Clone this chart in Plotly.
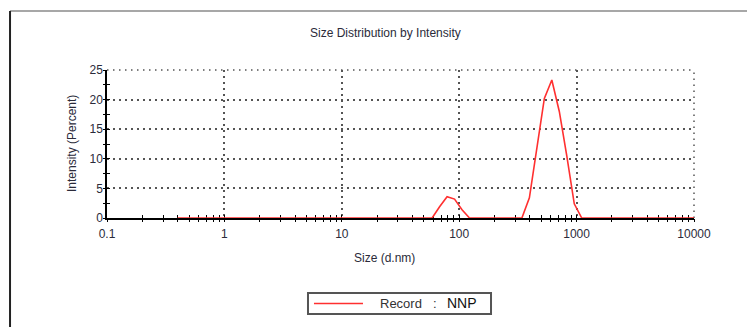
import plotly.graph_objects as go

# Size classes (d.nm) and intensity (%) of the record
size_nm = [0.4, 58.77, 68.06, 78.82, 91.28, 105.7, 122.4,
           342.0, 396.1, 458.7, 531.2, 615.1, 712.4, 825.0, 955.4, 1106.0, 10000.0]
intensity_pct = [0.0, 0.0, 1.9, 3.6, 3.2, 1.4, 0.0,
                 0.0, 3.4, 12.0, 20.2, 23.3, 18.0, 10.5, 2.4, 0.0, 0.0]

x_ticks = [0.1, 1, 10, 100, 1000, 10000]
x_tick_text = ["0.1", "1", "10", "100", "1000", "10000"]
y_ticks = [0, 5, 10, 15, 20, 25]

record_label = "Record"
record_name = "NNP"

FONT = "Liberation Sans, Arial, sans-serif"
TXT = "#2b2b3a"
GRID = "#555555"
GRID_DASH = "1.5px,4.5px"
RED = "#ff3030"

fig = go.Figure()
fig.add_trace(go.Scatter(
    x=size_nm, y=intensity_pct, mode="lines", name=f"{record_label} : {record_name}",
    line=dict(color=RED, width=1.6), hoverinfo="x+y", showlegend=False,
))
# empty trace to carry the mirrored tick axes
fig.add_trace(go.Scatter(x=[], y=[], xaxis="x2", yaxis="y2",
                         showlegend=False, hoverinfo="skip"))

common_x = dict(type="log", range=[-1, 4], fixedrange=True)
common_y = dict(range=[0, 25], fixedrange=True)

fig.update_layout(
    width=747, height=327,
    margin=dict(l=107, r=53, t=70, b=109, autoexpand=False),
    paper_bgcolor="white", plot_bgcolor="white",
    font=dict(family=FONT, size=12, color=TXT),
    showlegend=False,
    xaxis=dict(
        **common_x,
        tickvals=x_ticks, ticktext=x_tick_text,
        ticks="inside", ticklen=3, tickwidth=1, tickcolor="black",
        minor=dict(ticks="inside", ticklen=3, tickwidth=1, tickcolor="black",
                   dtick="D1", showgrid=False),
        showgrid=True, gridcolor=GRID, gridwidth=1.5, griddash=GRID_DASH,
        showline=True, linecolor="black", linewidth=1.5,
        zeroline=False, layer="below traces",
        tickfont=dict(size=12, color=TXT), ticklabelstandoff=4,
    ),
    yaxis=dict(
        **common_y,
        tickvals=y_ticks,
        ticks="inside", ticklen=3, tickwidth=1, tickcolor="black",
        minor=dict(ticks="inside", ticklen=3, tickwidth=1, tickcolor="black",
                   dtick=2.5, showgrid=False),
        showgrid=True, gridcolor=GRID, gridwidth=1.5, griddash=GRID_DASH,
        showline=True, linecolor="black", linewidth=1.5,
        zeroline=False, layer="below traces",
        tickfont=dict(size=12, color=TXT),
    ),
    xaxis2=dict(
        **common_x, overlaying="x", anchor="y2", side="bottom",
        tickvals=x_ticks, showticklabels=False,
        ticks="outside", ticklen=3, tickwidth=1, tickcolor="black",
        minor=dict(ticks="outside", ticklen=3, tickwidth=1, tickcolor="black",
                   dtick="D1", showgrid=False),
        showgrid=False, showline=False, zeroline=False, layer="below traces",
    ),
    yaxis2=dict(
        **common_y, overlaying="y", anchor="x2", side="left",
        tickvals=y_ticks, showticklabels=False,
        ticks="outside", ticklen=3, tickwidth=1, tickcolor="black",
        minor=dict(ticks="outside", ticklen=3, tickwidth=1, tickcolor="black",
                   dtick=2.5, showgrid=False),
        showgrid=False, showline=False, zeroline=False, layer="below traces",
    ),
)

# dotted edges of the plotting frame at y = 25 and size = 10000
fig.add_shape(type="line", xref="paper", yref="paper", x0=0, x1=1, y0=1, y1=1,
              line=dict(color=GRID, width=1.5, dash=GRID_DASH), layer="below")
fig.add_shape(type="line", xref="paper", yref="paper", x0=1, x1=1, y0=0, y1=1,
              line=dict(color=GRID, width=1.5, dash=GRID_DASH), layer="below")

# chart title and axis titles
fig.add_annotation(text="Size Distribution by Intensity", xref="paper", yref="paper",
                   x=0.474, y=1.25, xanchor="center", yanchor="middle",
                   showarrow=False, font=dict(size=12, color=TXT))
fig.add_annotation(text="Size (d.nm)", xref="paper", yref="paper",
                   x=0.472, y=-0.27, xanchor="center", yanchor="middle",
                   showarrow=False, font=dict(size=12, color=TXT))
fig.add_annotation(text="Intensity (Percent)", xref="paper", yref="paper",
                   x=-0.0596, y=0.5, xanchor="center", yanchor="middle",
                   textangle=-90, showarrow=False, font=dict(size=12, color=TXT))

# legend box for the record
fig.add_shape(type="rect", xref="paper", yref="paper",
              x0=0.3424, x1=0.6542, y0=-0.5068, y1=-0.6486,
              line=dict(color="#555555", width=2), fillcolor="white")
fig.add_shape(type="line", xref="paper", yref="paper",
              x0=0.3526, x1=0.4361, y0=-0.5777, y1=-0.5777,
              line=dict(color=RED, width=1.6))
fig.add_annotation(text=record_label, xref="paper", yref="paper",
                   x=0.4617, y=-0.5777, xanchor="left", yanchor="middle",
                   showarrow=False, font=dict(size=13, color="#333333"))
fig.add_annotation(text=":", xref="paper", yref="paper",
                   x=0.5588, y=-0.5777, xanchor="center", yanchor="middle",
                   showarrow=False, font=dict(size=13, color="#333333"))
fig.add_annotation(text=record_name, xref="paper", yref="paper",
                   x=0.5758, y=-0.5777, xanchor="left", yanchor="middle",
                   showarrow=False, font=dict(size=14, color="#111111"))

# outer frame: grey top edge and dark left edge
fig.add_shape(type="line", xref="paper", yref="paper",
              x0=-0.1652, x1=1.1, y0=1.3986, y1=1.3986,
              line=dict(color="#8a8a8a", width=1.5))
fig.add_shape(type="line", xref="paper", yref="paper",
              x0=-0.1652, x1=-0.1652, y0=1.3986, y1=-0.75,
              line=dict(color="#222222", width=2))

fig.write_html("out.html")
